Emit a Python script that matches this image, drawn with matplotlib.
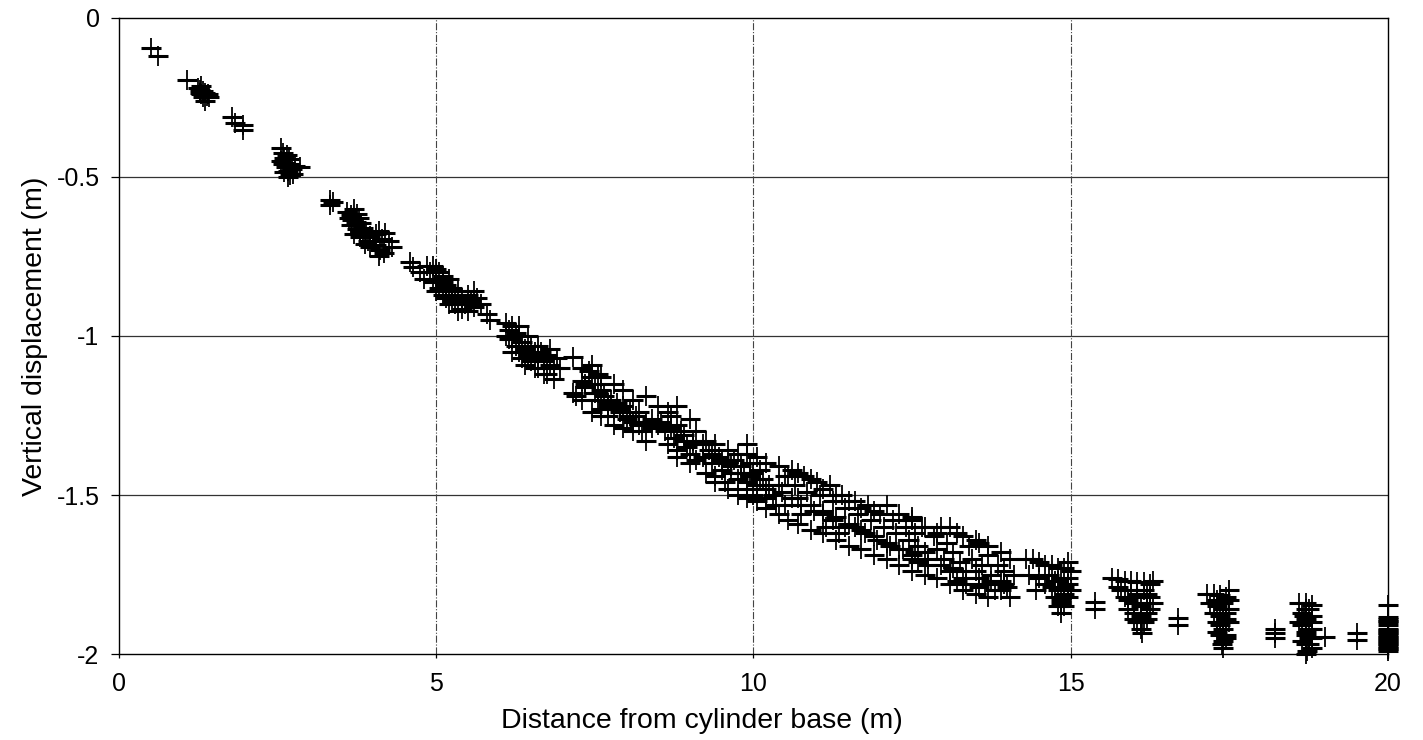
import matplotlib.pyplot as plt
import numpy as np

plt.rcParams['font.family'] = ['Liberation Sans', 'DejaVu Sans']

# points, grouped by cluster along the cylinder
x_top = [0.5, 0.62, 1.07, 1.25, 1.28, 1.32, 1.35, 1.3, 1.38, 1.27, 1.33, 1.42, 1.36, 1.4, 1.29,
         1.78, 1.83, 1.95, 1.95]
y_top = [-0.095, -0.12, -0.195, -0.22, -0.225, -0.23, -0.235, -0.24, -0.245, -0.235, -0.25, -0.25,
         -0.26, -0.24, -0.215, -0.31, -0.33, -0.337, -0.352]

x_a = [2.55, 2.58, 2.6, 2.55, 2.62, 2.65, 2.68, 2.7, 2.63, 2.66, 2.72, 2.78, 2.75, 2.7, 2.6, 2.85,
       2.58, 2.67, 3.33, 3.33, 3.38]
y_a = [-0.41, -0.425, -0.44, -0.45, -0.455, -0.43, -0.445, -0.46, -0.47, -0.48, -0.475, -0.465,
       -0.49, -0.495, -0.485, -0.47, -0.46, -0.5, -0.572, -0.588, -0.58]

x_b = [3.6, 3.65, 3.7, 3.75, 3.68, 3.72, 3.78, 3.82, 3.75, 3.8, 3.85, 3.9, 3.85, 3.92, 3.95, 4.0,
       4.05, 4.1, 4.15, 4.05, 4.2, 4.12, 3.88, 3.7, 4.18, 3.62, 3.66, 3.74, 3.8, 3.95, 4.25, 4.3,
       4.1]
y_b = [-0.61, -0.62, -0.6, -0.615, -0.635, -0.65, -0.63, -0.645, -0.665, -0.67, -0.66, -0.675,
       -0.69, -0.7, -0.685, -0.7, -0.68, -0.67, -0.695, -0.715, -0.675, -0.73, -0.71, -0.68, -0.74,
       -0.63, -0.65, -0.64, -0.69, -0.72, -0.7, -0.72, -0.75]

x_c = [4.59, 4.63, 4.74, 4.9, 4.95, 5.0, 5.0, 5.05, 5.1, 5.05, 5.15, 5.2, 5.2, 5.25, 5.3, 5.15,
       5.35, 5.4, 5.3, 5.45, 5.5, 5.55, 5.6, 5.5, 5.4, 5.65, 4.85, 5.1, 5.25, 5.8, 5.85,
       4.95, 5.0, 5.1, 5.35, 5.6, 5.7, 5.2, 4.8]
y_c = [-0.767, -0.783, -0.8, -0.8, -0.78, -0.79, -0.82, -0.8, -0.83, -0.85, -0.84, -0.82, -0.86,
       -0.85, -0.87, -0.88, -0.86, -0.88, -0.9, -0.9, -0.87, -0.89, -0.91, -0.92, -0.915, -0.88,
       -0.78, -0.81, -0.89, -0.93, -0.95, -0.83, -0.86, -0.87, -0.92, -0.86, -0.9, -0.9, -0.82]

x_d = [6.1, 6.15, 6.2, 6.25, 6.2, 6.3, 6.35, 6.25, 6.4, 6.3, 6.45, 6.5, 6.55, 6.5, 6.6, 6.65, 6.7,
       6.6, 6.75, 6.8, 6.7, 6.85, 6.4, 6.15, 6.9, 6.55, 7.15, 6.85,
       6.1, 6.2, 6.35, 6.45, 6.6, 6.75, 6.8, 6.95, 6.3]
y_d = [-0.96, -0.98, -0.97, -0.99, -1.01, -1.0, -1.02, -1.03, -1.04, -1.05, -1.06, -1.03, -1.05,
       -1.08, -1.07, -1.05, -1.08, -1.1, -1.06, -1.09, -1.12, -1.1, -1.09, -1.01, -1.07, -1.1,
       -1.065, -1.135, -1.0, -1.05, -1.07, -1.0, -1.03, -1.12, -1.04, -1.1, -0.97]

x_e = [7.16, 7.3, 7.4, 7.45, 7.5, 7.55, 7.5, 7.6, 7.55, 7.65, 7.7, 7.6, 7.75, 7.8, 7.85, 7.7, 7.9,
       7.95, 8.0, 8.05, 8.1, 8.15, 8.2, 8.3, 8.25, 8.4, 8.6, 8.7, 8.8, 8.75, 8.85, 8.9, 8.8, 8.95,
       9.05, 9.0, 7.35, 7.2]
y_e = [-1.18, -1.14, -1.11, -1.13, -1.15, -1.12, -1.18, -1.17, -1.2, -1.19, -1.22, -1.23, -1.2,
       -1.23, -1.21, -1.25, -1.24, -1.22, -1.26, -1.24, -1.27, -1.25, -1.28, -1.27, -1.3, -1.26,
       -1.3, -1.25, -1.28, -1.32, -1.3, -1.33, -1.36, -1.35, -1.34, -1.37, -1.16, -1.19]

x_f = [9.2, 9.3, 9.35, 9.45, 9.5, 9.4, 9.6, 9.65, 9.7, 9.55, 9.75, 9.8, 9.9, 9.95, 10.0, 9.9,
       10.05, 10.0, 10.1, 10.15, 10.2, 9.85, 10.3, 10.4, 10.5, 10.35]
y_f = [-1.38, -1.36, -1.4, -1.38, -1.42, -1.44, -1.4, -1.43, -1.39, -1.46, -1.45, -1.41, -1.37,
       -1.4, -1.43, -1.46, -1.47, -1.5, -1.42, -1.45, -1.48, -1.43, -1.5, -1.47, -1.44, -1.53]

x_g = [10.6, 10.65, 10.7, 10.8, 10.85, 10.9, 11.0, 11.05, 11.1, 11.2, 11.25, 11.3, 11.4, 11.45,
       11.5, 11.6, 11.65, 11.7, 11.8, 11.85, 11.9, 12.0, 12.05, 12.1, 12.2, 12.25, 12.3, 12.4,
       12.45, 11.15, 10.75, 12.5]
y_g = [-1.42, -1.47, -1.51, -1.44, -1.49, -1.53, -1.46, -1.5, -1.55, -1.47, -1.52, -1.57, -1.5,
       -1.54, -1.59, -1.52, -1.56, -1.61, -1.53, -1.58, -1.63, -1.56, -1.6, -1.65, -1.58, -1.62,
       -1.67, -1.6, -1.64, -1.6, -1.56, -1.69]

# upper and lower edges of the band between 7 m and 14 m
x_band = [7.3, 7.3, 7.45, 7.45, 7.6, 7.6, 7.8, 7.8, 7.95, 7.95, 8.1, 8.1, 8.3, 8.3, 8.5, 8.5,
          8.65, 8.65, 8.8, 8.8, 9.0, 9.0, 9.1, 9.1, 9.25, 9.25, 9.4, 9.4, 9.6, 9.6, 9.75, 9.75,
          9.9, 9.9, 10.05, 10.05, 10.2, 10.2, 10.4, 10.4, 10.55, 10.55, 10.7, 10.7, 10.9, 10.9,
          11.1, 11.1, 11.3, 11.3, 11.5, 11.5, 11.7, 11.7, 11.9, 11.9, 12.1, 12.1, 12.3, 12.3,
          12.5, 12.5, 12.7, 12.7, 12.9, 12.9, 13.1, 13.1, 13.3, 13.3, 13.5, 13.5, 13.7, 13.7,
          13.9, 13.9, 14.05, 14.05]
y_band = [-1.1, -1.2, -1.09, -1.24, -1.13, -1.25, -1.15, -1.28, -1.17, -1.29, -1.2, -1.3,
          -1.19, -1.33, -1.22, -1.28, -1.24, -1.34, -1.22, -1.38, -1.26, -1.4, -1.3, -1.39,
          -1.33, -1.43, -1.34, -1.46, -1.36, -1.48, -1.37, -1.5, -1.34, -1.51, -1.38, -1.52,
          -1.4, -1.54, -1.41, -1.56, -1.44, -1.58, -1.43, -1.59, -1.45, -1.61, -1.48, -1.62,
          -1.5, -1.64, -1.52, -1.66, -1.54, -1.67, -1.55, -1.69, -1.53, -1.7, -1.56, -1.72,
          -1.57, -1.74, -1.6, -1.75, -1.62, -1.76, -1.6, -1.78, -1.63, -1.8, -1.64, -1.81,
          -1.66, -1.82, -1.68, -1.8, -1.7, -1.82]

# middle of the same band
x_mid = [7.35, 7.55, 7.7, 7.9, 8.05, 8.2, 8.4, 8.55, 8.7, 8.9, 9.05, 9.2, 9.35, 9.5, 9.65, 9.8,
         9.95, 10.1, 10.25, 10.45, 10.6, 10.75, 10.95, 11.1, 11.25, 11.45, 11.6, 11.75, 11.95,
         12.15, 12.35, 12.55, 12.75, 12.95, 13.15, 13.35, 13.55, 13.75, 13.95, 14.1, 9.9, 10.2,
         10.5, 11.35, 12.6, 13.2]
y_mid = [-1.15, -1.18, -1.21, -1.23, -1.25, -1.24, -1.29, -1.27, -1.29, -1.31, -1.33, -1.34,
         -1.37, -1.39, -1.41, -1.43, -1.44, -1.45, -1.47, -1.49, -1.51, -1.53, -1.55, -1.56,
         -1.58, -1.6, -1.6, -1.62, -1.64, -1.66, -1.67, -1.68, -1.7, -1.72, -1.73, -1.74, -1.76,
         -1.77, -1.78, -1.75, -1.48, -1.51, -1.53, -1.62, -1.71, -1.77]

x_h = [12.5, 12.55, 12.6, 12.5, 12.65, 12.7, 12.75, 12.85, 12.9, 12.95, 13.0, 13.05, 13.1, 13.15,
       13.2, 13.25, 13.3, 13.4, 13.45, 13.5, 13.55, 13.6, 13.65, 13.7, 13.75, 13.8, 13.85, 13.9,
       13.95, 14.0, 13.55, 13.35]
y_h = [-1.58, -1.62, -1.66, -1.7, -1.6, -1.68, -1.72, -1.63, -1.67, -1.6, -1.7, -1.65, -1.74,
       -1.68, -1.62, -1.71, -1.76, -1.66, -1.7, -1.74, -1.65, -1.72, -1.78, -1.69, -1.75, -1.8,
       -1.72, -1.77, -1.74, -1.79, -1.79, -1.78]

x_i = [14.3, 14.4, 14.5, 14.6, 14.7, 14.8, 14.9, 14.95, 14.35, 14.5, 14.65, 14.75, 14.85, 14.95,
       15.0, 14.7, 14.8, 14.9, 15.0, 14.75, 14.85, 14.95, 14.8, 14.9, 14.85, 14.45, 14.6,
       14.8, 14.9, 14.85, 14.95, 15.38, 15.38]
y_i = [-1.7, -1.7, -1.71, -1.72, -1.72, -1.73, -1.73, -1.71, -1.75, -1.76, -1.75, -1.77, -1.76,
       -1.76, -1.74, -1.79, -1.8, -1.79, -1.8, -1.82, -1.83, -1.82, -1.85, -1.85, -1.87, -1.8,
       -1.78, -1.77, -1.81, -1.84, -1.78, -1.835, -1.86]

x_j = [15.65, 15.75, 15.85, 15.95, 16.05, 16.15, 16.25, 16.3, 15.8, 15.95, 16.05, 16.15, 16.25,
       15.9, 16.0, 16.1, 16.2, 16.0, 16.1, 16.2, 16.05, 16.15, 16.1, 16.12, 16.3, 15.85,
       15.9, 16.0, 16.2, 16.1, 16.05, 16.2, 15.75, 16.25, 16.69, 16.69]
y_j = [-1.76, -1.765, -1.77, -1.77, -1.775, -1.775, -1.78, -1.77, -1.8, -1.8, -1.81, -1.8, -1.82,
       -1.83, -1.84, -1.85, -1.84, -1.87, -1.88, -1.87, -1.9, -1.9, -1.92, -1.935, -1.84, -1.82,
       -1.86, -1.89, -1.89, -1.9, -1.82, -1.81, -1.79, -1.86, -1.887, -1.91]

x_k = [17.15, 17.25, 17.35, 17.45, 17.5, 17.2, 17.3, 17.4, 17.5, 17.25, 17.35, 17.45, 17.5, 17.3,
       17.4, 17.45, 17.35, 17.4, 17.4, 17.5, 17.3, 17.4, 17.35, 17.45, 17.4, 17.3, 17.45, 17.38,
       18.22, 18.22, 18.22]
y_k = [-1.81, -1.81, -1.815, -1.82, -1.8, -1.84, -1.85, -1.84, -1.86, -1.87, -1.88, -1.89, -1.9,
       -1.9, -1.92, -1.94, -1.94, -1.96, -1.98, -1.83, -1.83, -1.86, -1.91, -1.87, -1.9, -1.93,
       -1.95, -1.97, -1.92, -1.935, -1.95]

x_l = [18.6, 18.7, 18.8, 18.65, 18.75, 18.7, 18.8, 18.65, 18.75, 18.7, 18.8, 18.65, 18.75, 18.72,
       18.7, 18.6, 18.7, 18.8, 18.7, 18.8, 18.75, 18.7, 18.8, 18.68, 19.0, 19.51, 19.51]
y_l = [-1.84, -1.84, -1.845, -1.87, -1.86, -1.89, -1.88, -1.91, -1.92, -1.94, -1.95, -1.96,
       -1.97, -1.99, -2.0, -1.9, -1.86, -1.9, -1.93, -1.92, -1.95, -1.97, -1.98, -1.88, -1.947,
       -1.935, -1.955]

x_end = [20] * 21
y_end = [-1.846, -1.885, -1.89, -1.895, -1.9, -1.91, -1.92, -1.925, -1.93, -1.935, -1.94, -1.945,
         -1.95, -1.955, -1.96, -1.965, -1.97, -1.975, -1.98, -1.985, -1.99]

x_all = np.concatenate([x_top, x_a, x_b, x_c, x_d, x_e, x_f, x_g, x_band, x_mid, x_h, x_i, x_j,
                        x_k, x_l, x_end])
y_all = np.concatenate([y_top, y_a, y_b, y_c, y_d, y_e, y_f, y_g, y_band, y_mid, y_h, y_i, y_j,
                        y_k, y_l, y_end])

xticks = [0, 5, 10, 15, 20]
yticks = [0, -0.5, -1, -1.5, -2]
ytick_labels = ['0', '-0.5', '-1', '-1.5', '-2']

fig = plt.figure(figsize=(14.23, 7.4), dpi=100)
ax = fig.add_axes([0.0836, 0.1162, 0.8918, 0.8595])

# '+' drawn as a heavy horizontal bar and a thinner vertical bar, like the scan
ax.plot(x_all, y_all, linestyle='none', marker='_', color='black',
        markersize=14, markeredgewidth=2.2, clip_on=False, zorder=3)
ax.plot(x_all, y_all, linestyle='none', marker='|', color='black',
        markersize=14, markeredgewidth=1.3, clip_on=False, zorder=3)

ax.set_xlim(0, 20)
ax.set_ylim(-2, 0)
ax.set_xticks(xticks)
ax.set_xticklabels([str(t) for t in xticks])
ax.set_yticks(yticks)
ax.set_yticklabels(ytick_labels)

# horizontal grid solid, vertical grid dash-dot
for yv in yticks[1:-1]:
    ax.axhline(yv, color='#333333', linewidth=0.9, zorder=1)
for xv in xticks[1:-1]:
    ax.axvline(xv, color='#444444', linewidth=0.8, linestyle='-.', zorder=1)

for s in ax.spines.values():
    s.set_color('black')
    s.set_linewidth(1.0)

ax.tick_params(axis='y', direction='out', length=6, width=0.9, labelsize=18, pad=8)
ax.tick_params(axis='x', direction='out', length=3, width=0.9, labelsize=18, pad=10)

ax.set_xlabel('Distance from cylinder base (m)', fontsize=20.5)
ax.xaxis.set_label_coords(0.459, -0.085)
ax.set_ylabel('Vertical displacement (m)', fontsize=20.5, labelpad=6)

fig.savefig('out.png', dpi=100, facecolor='white')
